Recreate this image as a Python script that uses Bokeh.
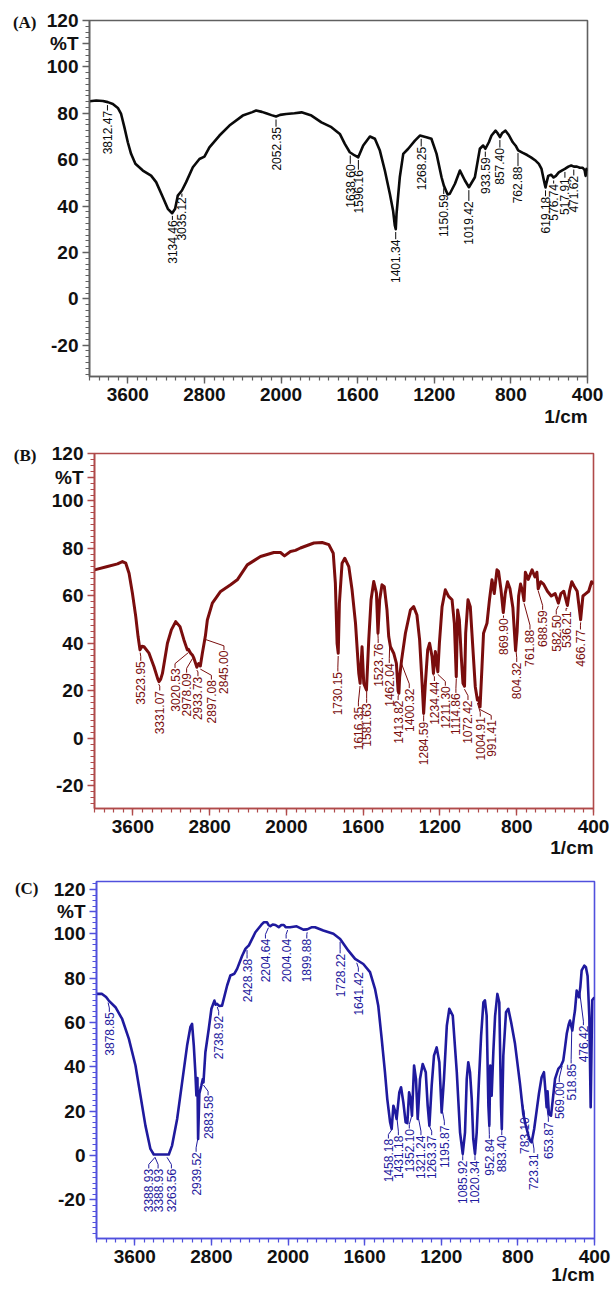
import numpy as np
from bokeh.plotting import figure
from bokeh.models import Range1d, FixedTicker, LinearAxis
from bokeh.embed import file_html
from bokeh.resources import INLINE
from bokeh.core.properties import value

# ---------------- data ----------------
x_tick_labels = ["3600", "2800", "2000", "1600", "1200", "800", "400"]
y_tick_labels = ["-20", "0", "20", "40", "60", "80", "100", "120"]

# Panel A
a_wn = [4000, 3930, 3860, 3809, 3756, 3704, 3670, 3636, 3600, 3566,
        3521, 3443, 3357, 3304, 3234, 3182, 3137, 3106, 3078, 3035,
        2991, 2921, 2852, 2800, 2748, 2643, 2539, 2400, 2300, 2260,
        2200, 2156, 2100, 2052, 2010, 1973, 1930, 1893, 1841, 1789,
        1737, 1693, 1667, 1641, 1615, 1597, 1571, 1536, 1510, 1484,
        1458, 1432, 1415, 1406, 1401, 1397, 1380, 1362, 1336, 1301,
        1275, 1241, 1215, 1188, 1162, 1150, 1130, 1119, 1092, 1066,
        1040, 1019, 988, 962, 945, 933, 915, 901, 880, 870,
        857, 845, 828, 810, 790, 775, 762, 740, 715, 695,
        670, 654, 640, 630, 622, 619, 614, 605, 590, 577,
        565, 550, 530, 518, 500, 485, 471, 455, 440, 425,
        415, 410, 405, 400]
a_t = [85.2, 85.5, 85.3, 84.8, 84.0, 82.3, 79.7, 74.0, 67.5, 62.5,
       58.2, 55.3, 53.1, 50.3, 43.8, 38.8, 36.9, 38.8, 44.5, 46.7,
       50.3, 56.7, 60.3, 61.3, 65.3, 70.4, 74.7, 79.0, 80.5, 81.2,
       80.6, 80.0, 79.2, 78.6, 79.3, 79.7, 80.0, 80.4, 79.0, 76.1,
       74.0, 71.1, 66.8, 63.2, 61.8, 61.0, 66.1, 70.0, 69.0, 63.9,
       55.3, 45.3, 38.0, 31.6, 30.0, 36.6, 52.4, 62.5, 64.7, 68.2,
       70.4, 69.7, 69.0, 62.5, 52.4, 48.8, 45.0, 45.3, 49.6, 55.3,
       51.0, 48.1, 52.4, 64.7, 66.1, 64.7, 67.5, 70.4, 72.5, 71.5,
       69.7, 71.5, 72.5, 70.5, 67.5, 66.0, 64.0, 63.0, 62.0, 61.0,
       59.5, 58.2, 56.0, 52.0, 49.0, 48.0, 50.0, 53.0, 53.5, 52.3,
       53.0, 54.5, 55.5, 56.0, 57.0, 57.5, 57.0, 57.0, 56.5, 56.5,
       55.5, 53.0, 56.0, 55.0]
a_peaks = ["3812.47", "3134.46", "3035.12", "2052.35", "1638.60", "1596.16",
           "1401.34", "1268.25", "1150.59", "1019.42", "933.59", "857.40",
           "762.88", "619.18", "576.74", "517.91", "471.62"]

# Panel B
b_wn = [4000, 3865, 3760, 3709, 3674, 3640, 3605, 3570, 3546, 3526,
        3505, 3484, 3432, 3380, 3340, 3328, 3310, 3292, 3240, 3199,
        3154, 3109, 3068, 3033, 3020, 2998, 2978, 2964, 2945, 2933,
        2915, 2902, 2897, 2876, 2852, 2845, 2824, 2772, 2686, 2582,
        2512, 2408, 2270, 2131, 2062, 2020, 1979, 1953, 1927, 1857,
        1814, 1779, 1756, 1745, 1736, 1730, 1724, 1710, 1696, 1675,
        1658, 1640, 1623, 1616, 1606, 1597, 1583, 1571, 1559, 1545,
        1531, 1523, 1514, 1502, 1490, 1476, 1467, 1458, 1441, 1427,
        1418, 1414, 1410, 1400, 1380, 1354, 1337, 1320, 1306, 1293,
        1285, 1276, 1264, 1254, 1241, 1234, 1224, 1211, 1203, 1189,
        1172, 1155, 1137, 1125, 1115, 1108, 1099, 1089, 1080, 1072,
        1066, 1054, 1042, 1028, 1016, 1005, 999, 991, 981, 973,
        955, 942, 929, 917, 903, 895, 882, 870, 860, 848,
        835, 820, 806, 798, 790, 780, 770, 762, 755, 740,
        720, 705, 695, 688, 675, 660, 640, 620, 600, 583,
        570, 555, 536, 525, 513, 500, 485, 467, 455, 440,
        425, 410, 400]
b_t = [71, 72.4, 73.5, 74.5, 73.8, 69.6, 61.2, 51.3, 42.9, 37.3,
       38.8, 38.6, 35.9, 30.2, 25, 23.9, 25, 27.4, 40.1, 45.7,
       49.2, 47.1, 41.5, 37.3, 37.5, 35.9, 35, 33.8, 31.5, 30,
       31.5, 30.9, 30.5, 35.9, 41.5, 43, 49.9, 57, 61.9, 64.7,
       66.8, 73.1, 76.6, 78.3, 78.3, 76.9, 78.7, 79.2, 80.2, 82.3,
       82.5, 81.6, 78, 65.4, 40, 35.9, 57, 73.8, 75.9, 72.4,
       62.6, 48.5, 27.4, 23.2, 38.6, 23.2, 20.4, 41.5, 58.4, 66.1,
       61.2, 44.3, 58.4, 64.7, 63.9, 54.1, 42.9, 38.6, 35.9, 31.6,
       20, 19, 26, 33, 44.3, 54.1, 55.5, 52, 41.5, 23.2,
       10.5, 23.2, 37.3, 40.1, 34.4, 27.4, 36.6, 28.1, 40.1, 55.5,
       62.6, 59.8, 58.4, 48.5, 26, 54.1, 50, 34.4, 23.2, 22,
       44.3, 58.4, 55.5, 37.3, 21.8, 16.2, 17, 13.3, 30.2, 44.3,
       48.5, 58.4, 66.8, 61, 71, 70.4, 62.6, 53, 61, 66,
       63, 55, 37, 45, 60, 65, 62, 58, 70, 67,
       71, 68, 70, 63, 66, 65, 62, 60, 61, 57,
       61, 62, 56, 62, 66, 64, 62, 50, 60, 61,
       62, 66, 65]
b_peaks = ["3523.95", "3331.07", "3020.53", "2978.09", "2933.73", "2897.08",
           "2845.00", "1730.15", "1616.35", "1581.63", "1523.76", "1462.04",
           "1413.82", "1400.32", "1284.59", "1234.44", "1211.30", "1114.86",
           "1072.42", "1004.91", "991.41", "869.90", "804.32", "761.88",
           "688.59", "582.50", "536.21", "466.77"]

# Panel C
c_wn = [4000, 3942, 3900, 3872, 3802, 3732, 3662, 3593, 3541, 3489,
        3437, 3402, 3245, 3211, 3158, 3106, 3054, 3020, 3002, 2984,
        2968, 2957, 2946, 2939, 2926, 2905, 2890, 2883, 2863, 2828,
        2800, 2769, 2755, 2741, 2720, 2689, 2636, 2602, 2560, 2532,
        2480, 2445, 2428, 2410, 2341, 2280, 2254, 2219, 2204, 2185,
        2160, 2132, 2097, 2070, 2044, 2025, 2004, 1989, 1955, 1920,
        1900, 1875, 1859, 1816, 1763, 1728, 1685, 1650, 1607, 1572,
        1546, 1529, 1511, 1494, 1482, 1467, 1459, 1450, 1441, 1433,
        1419, 1410, 1398, 1386, 1377, 1368, 1360, 1353, 1342, 1332,
        1323, 1311, 1297, 1281, 1271, 1262, 1250, 1238, 1224, 1210,
        1198, 1186, 1171, 1158, 1140, 1119, 1102, 1088, 1076, 1067,
        1059, 1050, 1041, 1033, 1024, 1015, 1003, 992, 980, 972,
        963, 954, 949, 944, 937, 928, 919, 907, 897, 888,
        884, 876, 862, 850, 835, 815, 800, 789, 772, 760,
        745, 737, 728, 715, 702, 690, 676, 664, 656, 650,
        645, 638, 627, 618, 606, 589, 575, 563, 555, 545,
        535, 528, 516, 508, 502, 493, 481, 474, 467, 453,
        445, 436, 427, 420, 416, 412, 404, 400]
c_t = [72.9, 72.9, 71.5, 69.9, 66.9, 61.6, 52.6, 40.6, 27.1, 13.5,
       3, 0.5, 0.5, 4.5, 16.5, 33, 49.6, 57.9, 59.4, 49.6,
       37.6, 27.1, 35, 7.5, 28, 31.6, 34.5, 33, 46.6, 57.1,
       66.2, 69.9, 68, 68.4, 67.5, 67.6, 76.7, 81.2, 82, 84.2,
       90, 93.2, 94, 94.7, 100.7, 104, 105.2, 105.2, 104, 103.4,
       104.2, 104, 103, 104, 104, 103, 103, 103, 103.4, 101.9,
       102, 103, 103, 101.5, 100, 97.7, 92.4, 88.7, 86.4, 82.7,
       75.2, 67.6, 52.6, 37.6, 25.6, 15, 12, 22.5, 20, 16.5,
       28.5, 30.8, 24, 15, 14.6, 28.5, 25.6, 18, 40.6, 34.5,
       16.5, 34.5, 41.3, 37.6, 22.5, 13.5, 31.6, 45.1, 48.8, 42.1,
       19.5, 34.5, 58.6, 66.2, 63.1, 37.6, 10.5, 0.8, 10.5, 34.5,
       42.1, 37.6, 25.6, 7.5, 0.8, 10.5, 34.5, 54.1, 69.1, 70,
       63.1, 22.5, 13.5, 40.6, 27, 47, 63, 72.9, 69, 22.5,
       12, 45, 64.6, 66.2, 60, 50.4, 40, 32.3, 18.8, 14,
       9, 6.8, 6, 12, 20.3, 28, 35.3, 37.6, 29, 21.8,
       29, 18.7, 18, 25, 34.6, 39.1, 40.5, 42.9, 48, 54.9,
       59, 60.9, 56.4, 62, 65.4, 74.4, 71.4, 76, 83.5, 85.7,
       85, 81, 62.4, 21.8, 45, 70, 71, 71]
c_peaks = ["3878.85", "3388.93", "3388.93", "3263.56", "2939.52", "2883.58",
           "2738.92", "2428.38", "2204.64", "2004.04", "1899.88", "1728.22",
           "1641.42", "1458.18", "1431.18", "1352.10", "1321.24", "1263.37",
           "1195.87", "1085.92", "1020.34", "952.84", "883.40", "783.10",
           "723.31", "653.87", "569.00", "518.85", "476.42"]

# ---------------- label layout (positions of the peak texts) ----------------
a_lab_x = None  # texts sit at their own wavenumber
a_lab_top = [81, 33.8, 43.8, 74, 58, 55.5, 25.5, 65.5, 45, 42, 61, 65, 57, 44,
             49.5, 52, 53]
b_lab_x = [3518, 3320, 3161, 3040, 2922, 2782, 2651, 1732, 1625, 1582, 1522,
           1464, 1418, 1360, 1285, 1229, 1172, 1117, 1054, 990, 933, 869, 800,
           731, 665, 594, 543, 468]
b_lab_top = [32.5, 20, 29.5, 27.5, 26, 24.6, 37, 28, 13.3, 14.8, 40, 31.6, 16,
             21, 7, 24, 22, 19, 16, 9, 7.7, 50.6, 32, 45.7, 54, 52, 53.5, 45.7]
c_lab_x = [3866, 3454, 3357, 3218, 2960, 2835, 2724, 2428, 2236, 2020, 1902,
           1728, 1633, 1476, 1424, 1367, 1306, 1250, 1184, 1088, 1024, 949, 884,
           766, 716, 641, 584, 522, 458]
c_lab_top = [64.6, -6, -6, -6, 1.5, 27, 63, 88.7, 97.7, 97.7, 97.7, 91, 82.7,
             7.5, 9, 12, 9, 9, 13.5, -2.3, -2.3, 7.5, 9, 17.3, 1, 15, 33,
             41.4, 58.6]


def to_u(w):
    """Wavenumber -> axis coordinate (4000-2000 region drawn at half scale)."""
    w = np.asarray(w, dtype=float)
    return np.where(w > 2000.0, 2000.0 + (w - 2000.0) / 2.0, w)


def style_axis(ax, frame_color):
    ax.axis_line_color = frame_color
    ax.axis_line_width = 1.6
    ax.major_tick_line_color = frame_color
    ax.minor_tick_line_color = frame_color
    ax.major_tick_line_width = 1.4
    ax.minor_tick_line_width = 1.2
    ax.major_tick_out = 7
    ax.major_tick_in = 0
    ax.minor_tick_out = 4
    ax.minor_tick_in = 0
    ax.major_label_text_font = "Liberation Sans"
    ax.major_label_text_font_style = "bold"
    ax.major_label_text_font_size = "19px"
    ax.major_label_text_color = "#111111"
    ax.major_label_standoff = 4


def make_panel(wn, tr, peaks, lab_x, lab_top, tag, curve_color, frame_color,
               lw, height, b_top, b_bottom, b_left, b_right, y0, y1,
               tag_y, tag_standoff, unit_standoff):
    p = figure(width=612, height=height, x_range=Range1d(3000, 400),
               y_range=Range1d(y0, y1), output_backend="svg",
               toolbar_location=None, min_border_top=b_top,
               min_border_bottom=b_bottom, min_border_left=b_left,
               min_border_right=b_right)
    p.grid.visible = False
    p.outline_line_color = frame_color
    p.outline_line_width = 1.6
    p.outline_line_alpha = 1.0

    # main axes
    xpos = [float(v) for v in to_u([float(s) for s in x_tick_labels])]
    p.xaxis.ticker = FixedTicker(ticks=xpos,
                                 minor_ticks=list(np.arange(400, 3001, 50)))
    p.xaxis.major_label_overrides = {xp: s for xp, s in zip(xpos, x_tick_labels)}
    ypos = [float(s) for s in y_tick_labels] + [110.0]
    p.yaxis.ticker = FixedTicker(ticks=ypos,
                                 minor_ticks=list(np.arange(-40, 125.1, 2.5)))
    ov = {float(s): s for s in y_tick_labels}
    ov[110.0] = "%T"
    p.yaxis.major_label_overrides = ov
    style_axis(p.xaxis[0], frame_color)
    style_axis(p.yaxis[0], frame_color)

    # panel tag "(A)" as an outer left axis with a single labelled tick
    tag_ax = LinearAxis(ticker=FixedTicker(ticks=[tag_y], minor_ticks=[]),
                        major_label_overrides={tag_y: tag})
    tag_ax.axis_line_color = None
    tag_ax.major_tick_line_color = None
    tag_ax.minor_tick_line_color = None
    tag_ax.major_tick_out = 0
    tag_ax.major_label_standoff = tag_standoff
    tag_ax.major_label_text_font = "Liberation Serif"
    tag_ax.major_label_text_font_style = "bold"
    tag_ax.major_label_text_font_size = "17px"
    tag_ax.major_label_text_color = "#111111"
    p.add_layout(tag_ax, "left")

    # unit "1/cm" as an outer bottom axis, right-aligned with the frame
    unit_x = 400.0 + 21.5 / (498.0 / 2600.0)
    unit_ax = LinearAxis(ticker=FixedTicker(ticks=[unit_x], minor_ticks=[]),
                         major_label_overrides={unit_x: "1/cm"})
    unit_ax.axis_line_color = None
    unit_ax.major_tick_line_color = None
    unit_ax.minor_tick_line_color = None
    unit_ax.major_tick_out = 0
    unit_ax.major_label_standoff = unit_standoff
    unit_ax.major_label_text_font = "Liberation Sans"
    unit_ax.major_label_text_font_style = "bold"
    unit_ax.major_label_text_font_size = "19px"
    unit_ax.major_label_text_color = "#111111"
    p.add_layout(unit_ax, "below")

    # spectrum
    p.line(to_u(wn), tr, line_color=curve_color, line_width=lw,
           line_join="round")

    # peak labels with leader lines
    wn_a = np.asarray(wn, float)
    tr_a = np.asarray(tr, float)
    order = np.argsort(wn_a)
    pk = np.array([float(s) for s in peaks])
    tx = pk if lab_x is None else np.asarray(lab_x, float)
    va = np.interp(pk, wn_a[order], tr_a[order])
    xs, ys = [], []
    for k in range(len(pk)):
        xp = float(to_u(pk[k]))
        xt = float(to_u(tx[k]))
        top = lab_top[k]
        ystart = va[k] - 1.3
        if abs(xt - xp) < 1e-6:
            xs.append([xp, xp])
            ys.append([ystart, top + 0.2])
        else:
            ymid = min(top + 2.0, ystart)
            xs.append([xp, xt, xt])
            ys.append([ystart, ymid, top + 0.2])
    p.multi_line(xs, ys, line_color=curve_color, line_width=1.0)
    p.text(x=list(to_u(tx)), y=list(lab_top), text=list(peaks),
           angle=np.pi / 2, text_align="right", text_baseline="middle",
           text_font=value("Liberation Sans"), text_font_size="12px",
           text_color=curve_color)
    return p


pA = make_panel(a_wn, a_t, a_peaks, a_lab_x, a_lab_top, "(A)", "#0a0a0a",
                "#606060", 2.6, 431, 20, 55, 89, 25, -33.5, 120,
                119.0, 7, 2)
pB = make_panel(b_wn, b_t, b_peaks, b_lab_x, b_lab_top, "(B)", "#7a0d0d",
                "#b04a4a", 3.0, 433, 22, 56, 94, 19, -29.5, 120,
                119.0, 12, 1)
pC = make_panel(c_wn, c_t, c_peaks, c_lab_x, c_lab_top, "(C)", "#1f1a9e",
                "#5050dd", 2.6, 428, 17, 54, 96, 18, -37.4, 123.6,
                120.6, 12, -2)

open("out.html", "w").write(file_html([pA, pB, pC], INLINE,
                                      title="FTIR spectra"))
